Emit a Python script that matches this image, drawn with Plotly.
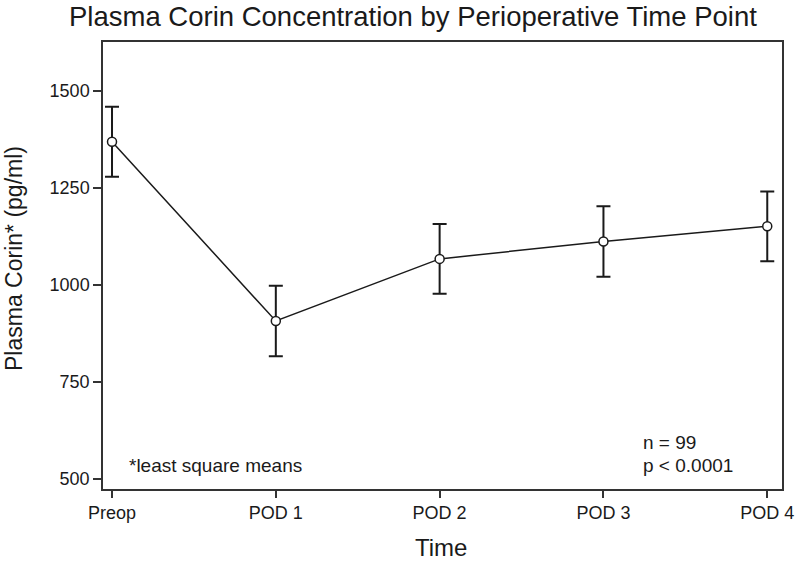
import plotly.graph_objects as go

categories = ["Preop", "POD 1", "POD 2", "POD 3", "POD 4"]
means = [1369, 907, 1067, 1112, 1151]
err = [90, 91, 90, 91, 90]
y_ticks = [500, 750, 1000, 1250, 1500]

x_idx = list(range(len(categories)))

fig = go.Figure()
fig.add_trace(go.Scatter(
    x=x_idx, y=means, mode="lines+markers",
    line=dict(color="#1a1a1a", width=1.5),
    marker=dict(symbol="circle", size=9, color="white", line=dict(color="#1a1a1a", width=1.5)),
    error_y=dict(type="data", array=err, visible=True, color="#1a1a1a", thickness=2, width=7),
    showlegend=False,
))

font = "Liberation Sans, Arial, sans-serif"
ink = "#1a1a1a"
fig.update_layout(
    width=800, height=565,
    margin=dict(l=103, r=18, t=42, b=76),
    paper_bgcolor="white", plot_bgcolor="white",
    font=dict(family=font, color=ink),
    xaxis=dict(
        range=[-0.055, 4.09], tickmode="array", tickvals=x_idx, ticktext=categories,
        showline=True, linecolor="#333", linewidth=1.5, mirror=True,
        ticks="outside", ticklen=7, tickwidth=1.5, tickcolor="#333",
        showgrid=False, zeroline=False, tickfont=dict(size=18), automargin=False,
    ),
    yaxis=dict(
        range=[474, 1626], tickmode="array", tickvals=y_ticks,
        showline=True, linecolor="#333", linewidth=1.5, mirror=True,
        ticks="outside", ticklen=8, tickwidth=1.5, tickcolor="#333",
        showgrid=False, zeroline=False, tickfont=dict(size=18), automargin=False,
    ),
    annotations=[
        dict(text="Plasma Corin Concentration by Perioperative Time Point",
             xref="paper", yref="paper", x=(413 - 103) / 679, y=(489 - 16) / 447,
             xanchor="center", yanchor="middle", showarrow=False, font=dict(size=27.5)),
        dict(text="Plasma Corin* (pg/ml)", textangle=-90,
             xref="paper", yref="paper", x=(14 - 103) / 679, y=(489 - 259) / 447,
             xanchor="center", yanchor="middle", showarrow=False, font=dict(size=23)),
        dict(text="Time",
             xref="paper", yref="paper", x=(441 - 103) / 679, y=(489 - 547) / 447,
             xanchor="center", yanchor="middle", showarrow=False, font=dict(size=24)),
        dict(text="*least square means", xref="paper", yref="paper", x=(127 - 103) / 679,
             y=(489 - 465) / 447, xanchor="left", yanchor="middle", showarrow=False,
             font=dict(size=19)),
        dict(text="n = 99", xref="paper", yref="paper", x=(641 - 103) / 679,
             y=(489 - 442) / 447, xanchor="left", yanchor="middle", showarrow=False,
             font=dict(size=19)),
        dict(text="p < 0.0001", xref="paper", yref="paper", x=(641 - 103) / 679,
             y=(489 - 465) / 447, xanchor="left", yanchor="middle", showarrow=False,
             font=dict(size=19)),
    ],
)

fig.write_html(
    "out.html",
    config={"displayModeBar": False},
    post_script="document.body.style.margin='0';document.body.style.overflow='hidden';",
)
